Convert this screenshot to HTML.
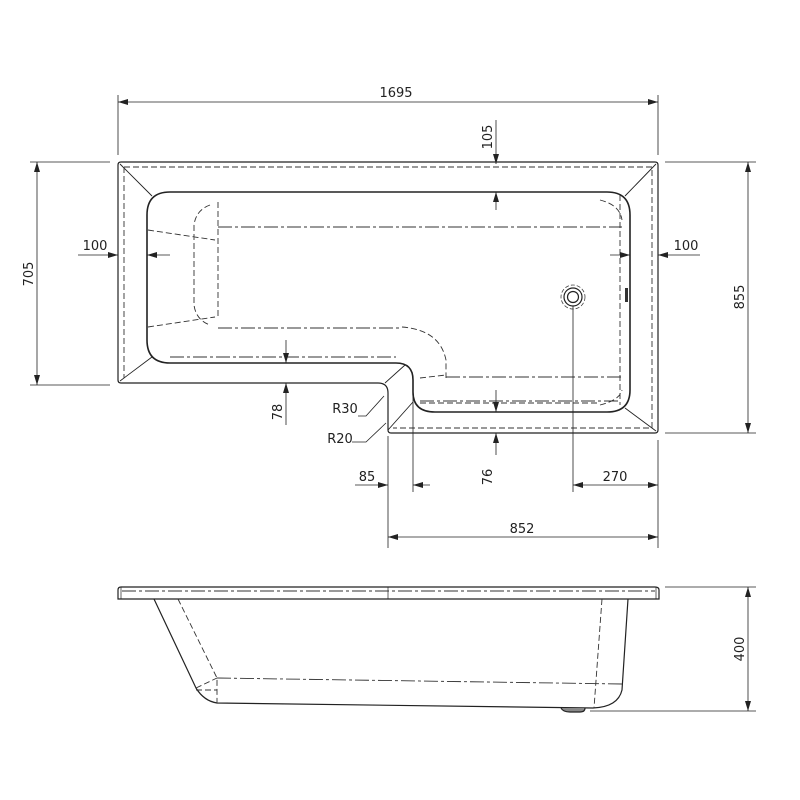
<!DOCTYPE html>
<html><head><style>body{margin:0;background:#fff}svg{display:block}text{font-family:"DejaVu Sans","Liberation Sans",sans-serif;font-size:13px;fill:#222}</style></head>
<body>
<svg width="800" height="800" viewBox="0 0 800 800" xmlns="http://www.w3.org/2000/svg">
<defs>
<marker id="a" viewBox="0 0 10 6" refX="10" refY="3" markerWidth="10" markerHeight="6" orient="auto-start-reverse" markerUnits="userSpaceOnUse"><path d="M0,0L10,3L0,6z" fill="#222"/></marker>
</defs>
<g fill="none" stroke="#222" stroke-width="1.2">
<!-- outer rim top view -->
<path d="M121,162H655Q658,162 658,165V430Q658,433 655,433H391Q388,433 388,430V393Q388,383 378,383H121Q118,383 118,380V165Q118,162 121,162Z"/>
<!-- basin -->
<path d="M170,192H607Q630,192 630,215V390Q630,412 607,412H435Q413,412 413,392V380Q413,363 396,363H170Q147,363 147,340V215Q147,192 170,192Z" stroke-width="1.6"/>
<!-- corner diagonals -->
<path d="M120,164L152,196M656,164L625,196M120,381L152,357M656,431L625,408M388,430L413,402M385,383L405,365" stroke-width="0.9"/>
</g>
<g fill="none" stroke="#333" stroke-width="0.9" stroke-dasharray="6,3">
<path d="M124,167H652V428H393M124,167V378"/>
<path d="M218,202V318M210,205Q196,210 194,225V305Q196,320 210,325M148,230L215,240M148,327L215,317"/>
<path d="M402,327Q440,330 446,360V378M620,195V405M600,200Q620,205 622,220M600,405Q620,400 622,390"/>
<path d="M420,403H600M420,378L446,375"/>
</g>
<g fill="none" stroke="#333" stroke-width="0.9" stroke-dasharray="14,3,3,3">
<path d="M218,227H622M218,328H402M446,377H622M158,399"/>
<path d="M170,357H396M420,401H620"/>
</g>
<!-- drain -->
<circle cx="573" cy="297" r="9" fill="none" stroke="#222" stroke-width="1.2"/>
<circle cx="573" cy="297" r="5.5" fill="none" stroke="#222" stroke-width="1.2"/>
<circle cx="573" cy="297" r="12" fill="none" stroke="#444" stroke-width="0.8" stroke-dasharray="4,2"/>
<rect x="625" y="288" width="3" height="14" fill="#333"/>
<!-- dims -->
<g stroke="#222" stroke-width="0.8" fill="none">
<path d="M118,155V95M658,155V95"/>
<path d="M118,102H658" marker-start="url(#a)" marker-end="url(#a)"/>
<path d="M496,120V164" marker-end="url(#a)"/><path d="M496,210V192" marker-end="url(#a)"/>
<path d="M78,255H118" marker-end="url(#a)"/><path d="M170,255H147" marker-end="url(#a)"/>
<path d="M700,255H658" marker-end="url(#a)"/><path d="M610,255H630" marker-end="url(#a)"/>
<path d="M110,162H30M110,385H30"/>
<path d="M37,162V385" marker-start="url(#a)" marker-end="url(#a)"/>
<path d="M665,162H756M665,433H756"/>
<path d="M748,162V433" marker-start="url(#a)" marker-end="url(#a)"/>
<path d="M286,340V363" marker-end="url(#a)"/><path d="M286,425V383" marker-end="url(#a)"/>
<path d="M496,390V412" marker-end="url(#a)"/><path d="M496,455V433" marker-end="url(#a)"/>
<path d="M388,436V548M413,390V492M658,440V548M573,306V492"/>
<path d="M355,485H388" marker-end="url(#a)"/><path d="M430,485H413" marker-end="url(#a)"/>
<path d="M573,485H658" marker-start="url(#a)" marker-end="url(#a)"/>
<path d="M388,537H658" marker-start="url(#a)" marker-end="url(#a)"/>
<path d="M358,416L366,416L384,396" /><path d="M352,442H366L386,423"/>
<path d="M665,587H756M590,711H756"/>
<path d="M748,587V711" marker-start="url(#a)" marker-end="url(#a)"/>
</g>
<text x="396" y="97" text-anchor="middle">1695</text>
<text transform="translate(492,137) rotate(-90)" text-anchor="middle">105</text>
<text x="95" y="250" text-anchor="middle">100</text>
<text x="686" y="250" text-anchor="middle">100</text>
<text transform="translate(33,274) rotate(-90)" text-anchor="middle">705</text>
<text transform="translate(744,297) rotate(-90)" text-anchor="middle">855</text>
<text transform="translate(282,412) rotate(-90)" text-anchor="middle">78</text>
<text x="345" y="413" text-anchor="middle">R30</text>
<text x="340" y="443" text-anchor="middle">R20</text>
<text x="367" y="481" text-anchor="middle">85</text>
<text transform="translate(492,477) rotate(-90)" text-anchor="middle">76</text>
<text x="615" y="481" text-anchor="middle">270</text>
<text x="522" y="533" text-anchor="middle">852</text>
<text transform="translate(744,649) rotate(-90)" text-anchor="middle">400</text>
<!-- side view -->
<g fill="none" stroke="#222" stroke-width="1.2">
<path d="M121,587H655Q659,587 659,590V599H118V590Q118,587 121,587Z"/>
<path d="M388,587V599M121,587V599M656,587V599" stroke-width="0.7"/>
<path d="M154,599L196,688Q204,701 217,703L593,708Q618,707 622,690L628,599"/>
<path d="M561,708Q563,712 570,712H580Q585,712 585,708" fill="#888"/>
</g>
<g fill="none" stroke="#333" stroke-width="0.9" stroke-dasharray="6,3">
<path d="M178,599L217,678V703M602,599L594,708M196,688L217,678M196,690L217,690"/>
</g>
<g fill="none" stroke="#333" stroke-width="0.9" stroke-dasharray="14,3,3,3">
<path d="M122,591H655M217,678L622,684"/>
</g>
</svg>
</body></html>
